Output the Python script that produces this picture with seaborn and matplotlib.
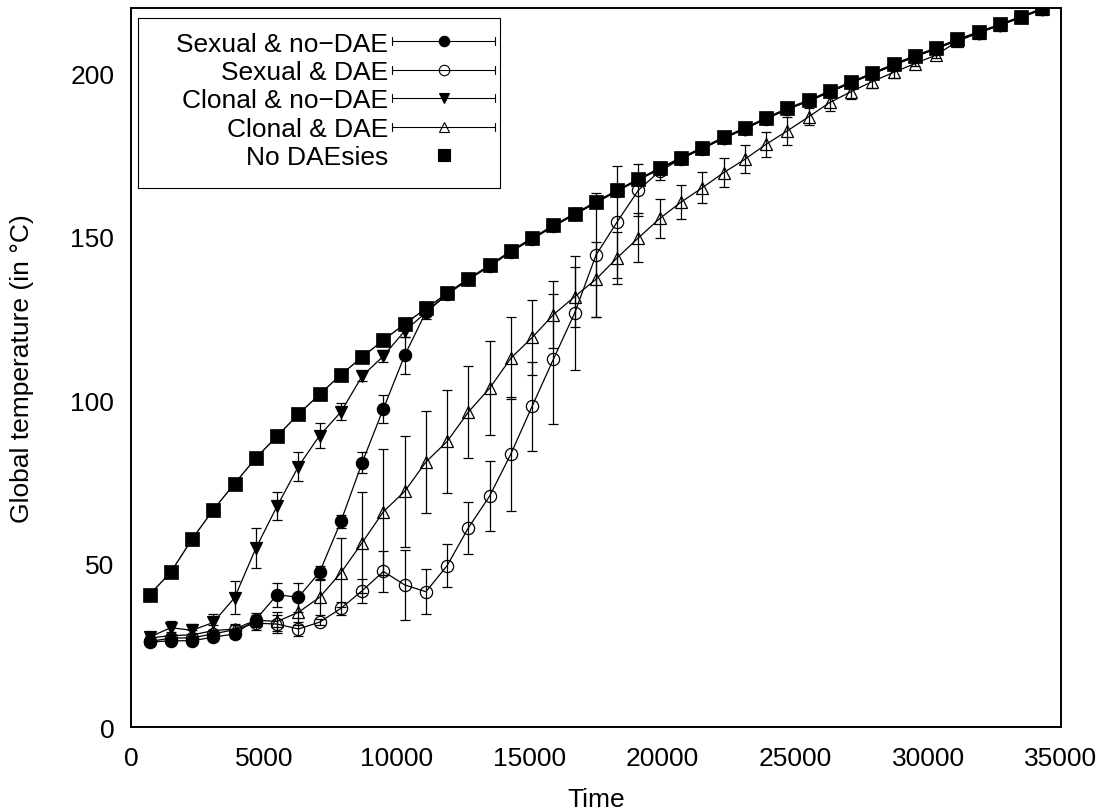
import numpy as np
import seaborn as sns
import matplotlib.pyplot as plt
from matplotlib.lines import Line2D
from matplotlib.patches import Rectangle
from matplotlib.legend_handler import HandlerBase

# sampled times (every 800 time steps)
time = np.arange(700, 34301, 800)

no_daesies = [40.5, 47.4, 57.5, 66.5, 74.5, 82.3, 89.0, 95.7, 101.8, 107.8,
              113.2, 118.4, 123.3, 128.1, 132.7, 137.2, 141.3, 145.7, 149.6, 153.5,
              157.1, 160.7, 164.3, 167.7, 171.0, 174.2, 177.3, 180.4, 183.3, 186.4,
              189.3, 191.8, 194.6, 197.4, 200.1, 202.8, 205.4, 207.8, 210.4, 212.7,
              215.0, 217.4, 219.9]

sexual_nodae = [26.0, 26.4, 26.4, 27.5, 28.5, 32.9, 40.5, 39.7, 47.4, 62.9,
                80.9, 97.4, 113.7, 127.0, 132.5, 137.0, 141.1, 145.5, 149.4, 153.3,
                156.9, 160.5, 164.1, 167.5, 170.8, 174.0, 177.1, 180.2, 183.1, 186.2,
                189.1, 191.6, 194.4, 197.2, 199.9, 202.6, 205.2, 207.6, 210.2, 212.5,
                214.8, 217.2, 219.7]
sexual_nodae_err = [0.8, 0.8, 0.8, 1.0, 1.2, 1.5, 3.7, 4.4, 2.0, 1.9,
                    3.3, 4.3, 5.6, 2.0, 0.5, 0.5, 0.5, 0.5, 0.5, 0.5,
                    0.5, 0.5, 0.5, 0.5, 0.5, 0.5, 0.5, 0.5, 0.5, 0.5,
                    0.5, 0.5, 0.5, 0.5, 0.5, 0.5, 0.5, 0.5, 0.5, 0.5,
                    0.5, 0.5, 0.5]

sexual_dae = [26.2, 27.2, 27.3, 28.5, 29.8, 31.8, 31.5, 30.0, 32.1, 36.3,
              41.7, 47.6, 43.5, 41.4, 49.4, 61.0, 70.7, 83.6, 98.2, 112.6,
              126.7, 144.4, 154.6, 164.3, 170.1, 173.8, 177.0, 180.1, 183.0, 186.1,
              189.0, 191.5, 194.3, 197.1, 199.8, 202.5, 205.1, 207.6, 210.2, 212.5,
              214.8, 217.2, 219.7]
sexual_dae_err = [0.8, 1.0, 1.2, 1.3, 1.5, 2.0, 2.8, 2.0, 1.0, 2.0,
                  3.7, 6.4, 10.8, 6.9, 6.5, 8.0, 10.7, 17.5, 13.6, 19.9,
                  17.5, 18.9, 17.2, 8.0, 2.7, 1.5, 1.2, 1.0, 0.8, 0.8,
                  0.8, 0.8, 0.8, 0.8, 0.8, 0.8, 0.8, 0.8, 0.5, 0.5,
                  0.5, 0.5, 0.5]

clonal_nodae = [27.5, 30.4, 29.6, 32.0, 39.6, 54.7, 67.6, 79.7, 89.2, 96.4,
                107.4, 113.5, 121.2, 126.8, 132.4, 136.9, 141.0, 145.4, 149.3, 153.2,
                156.8, 160.4, 164.0, 167.4, 170.7, 173.9, 177.0, 180.1, 183.0, 186.1,
                189.0, 191.5, 194.3, 197.1, 199.8, 202.5, 205.1, 207.5, 210.1, 212.4,
                214.7, 217.1, 219.6]
clonal_nodae_err = [1.0, 2.0, 1.8, 2.5, 5.0, 6.1, 4.2, 4.5, 3.9, 2.6,
                    1.6, 1.9, 1.9, 1.0, 0.5, 0.5, 0.5, 0.5, 0.5, 0.5,
                    0.5, 0.5, 0.5, 0.5, 0.5, 0.5, 0.5, 0.5, 0.5, 0.5,
                    0.5, 0.5, 0.5, 0.5, 0.5, 0.5, 0.5, 0.5, 0.5, 0.5,
                    0.5, 0.5, 0.5]

clonal_dae = [27.2, 28.0, 28.2, 29.5, 30.0, 32.7, 32.3, 35.1, 39.7, 47.2,
              56.4, 65.9, 72.1, 81.1, 87.4, 96.4, 103.7, 112.9, 119.2, 126.2,
              131.7, 137.0, 143.6, 149.7, 155.6, 160.6, 165.0, 169.6, 173.7, 178.3,
              182.4, 186.7, 191.1, 194.4, 197.5, 200.3, 203.0, 205.6, 209.8, 212.4,
              214.8, 217.2, 219.7]
clonal_dae_err = [0.8, 1.2, 1.5, 1.8, 1.5, 2.2, 3.0, 4.0, 5.4, 10.5,
                  15.5, 19.3, 17.1, 15.6, 15.7, 14.0, 14.3, 12.6, 11.5, 10.2,
                  9.2, 11.5, 8.0, 7.5, 6.1, 5.3, 4.7, 4.5, 4.3, 3.9,
                  4.2, 2.6, 2.5, 2.2, 2.0, 1.8, 0.8, 0.8, 0.5, 0.5,
                  0.5, 0.5, 0.5]

labels = ['Sexual & no\u2212DAE', 'Sexual & DAE', 'Clonal & no\u2212DAE',
          'Clonal & DAE', 'No DAEsies']

sns.set_theme(style='white')
plt.rcParams['font.family'] = ['Liberation Sans', 'DejaVu Sans']
plt.rcParams['axes.linewidth'] = 1.4
plt.rcParams['axes.edgecolor'] = 'black'
plt.rcParams['axes.labelcolor'] = 'black'
plt.rcParams['text.color'] = 'black'

fig, ax = plt.subplots(figsize=(11.09, 8.12), dpi=100)
fig.subplots_adjust(left=0.1181, right=0.9567, bottom=0.1034, top=0.9889)

series = [
    (sexual_nodae, sexual_nodae_err, 'o', 'black', 8.8),
    (sexual_dae, sexual_dae_err, 'o', 'none', 8.8),
    (clonal_nodae, clonal_nodae_err, 'v', 'black', 9.2),
    (clonal_dae, clonal_dae_err, '^', 'none', 9.2),
]

z = 2
for vals, err, mk, fc, ms in series:
    ax.errorbar(time, vals, yerr=err, fmt='none', ecolor='black',
                elinewidth=0.9, capsize=3.6, capthick=0.9, zorder=z)
    sns.lineplot(x=time, y=vals, ax=ax, color='black', lw=0.9, marker=mk,
                 markersize=ms, markerfacecolor=fc, markeredgecolor='black',
                 markeredgewidth=0.9, zorder=z + 1)
    z += 2

sns.lineplot(x=time, y=no_daesies, ax=ax, color='black', lw=1.0, marker='s',
             markersize=9.8, markerfacecolor='black', markeredgecolor='black',
             markeredgewidth=0.5, zorder=z + 1)

ax.set_xlim(0, 35000)
ax.set_ylim(0, 220)
ax.set_xticks(np.arange(0, 35001, 5000))
ax.set_yticks(np.arange(0, 201, 50))
ax.tick_params(axis='both', length=0, labelsize=19, colors='black')
ax.tick_params(axis='x', pad=14)
ax.tick_params(axis='y', pad=12)
ax.set_xlabel('Time', fontsize=19, labelpad=12)
ax.set_ylabel('Global temperature (in \u00b0C)', fontsize=19, labelpad=26)
for s in ax.spines.values():
    s.set_visible(True)
    s.set_color('black')


class ErrKey(HandlerBase):
    def __init__(self, bars=True):
        super().__init__()
        self.bars = bars

    def create_artists(self, legend, orig_handle, xdescent, ydescent,
                       width, height, fontsize, trans):
        y = height / 2 - ydescent
        x0, x1 = -xdescent, width - xdescent
        arts = []
        if self.bars:
            cap = 2.8
            arts.append(Line2D([x0, x1], [y, y], color='black', lw=0.8))
            arts.append(Line2D([x0, x0], [y - cap, y + cap], color='black', lw=0.8))
            arts.append(Line2D([x1, x1], [y - cap, y + cap], color='black', lw=0.8))
        arts.append(Line2D([(x0 + x1) / 2], [y], linestyle='none',
                           marker=orig_handle.get_marker(),
                           markersize=orig_handle.get_markersize(),
                           markerfacecolor=orig_handle.get_markerfacecolor(),
                           markeredgecolor='black', markeredgewidth=0.8))
        for a in arts:
            a.set_transform(trans)
        return arts


handles = [
    Line2D([], [], marker='o', markersize=7.5, markerfacecolor='black'),
    Line2D([], [], marker='o', markersize=7.5, markerfacecolor='none'),
    Line2D([], [], marker='v', markersize=6.5, markerfacecolor='black'),
    Line2D([], [], marker='^', markersize=6.5, markerfacecolor='none'),
    Line2D([], [], marker='s', markersize=9, markerfacecolor='black'),
]
hmap = {h: ErrKey(bars=(i < 4)) for i, h in enumerate(handles)}

leg = ax.legend(handles, labels, handler_map=hmap, loc='upper right',
                bbox_to_anchor=(495 / 1109, 1 - 32.5 / 812),
                bbox_transform=fig.transFigure, markerfirst=False,
                frameon=False, fontsize=19, borderpad=0, borderaxespad=0,
                handlelength=103 / 26.4, handletextpad=0.15, labelspacing=0.17)
leg.set_zorder(20)

# key box
ax.add_patch(Rectangle((138 / 1109, 1 - 189 / 812), 362 / 1109, 170 / 812,
                       transform=fig.transFigure, facecolor='white',
                       edgecolor='black', lw=0.8, zorder=19))

fig.savefig('out.png', dpi=100)
